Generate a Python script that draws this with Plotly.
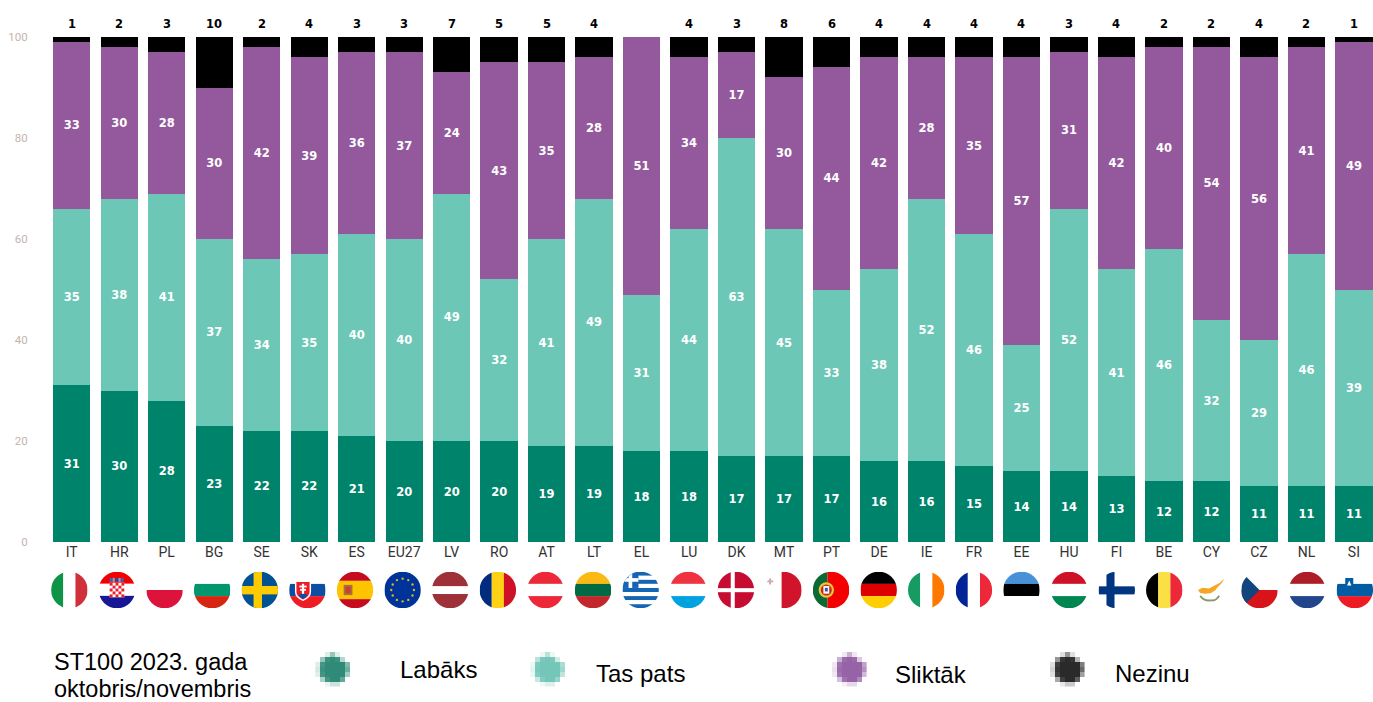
import base64
import plotly.graph_objects as go

categories = ["IT","HR","PL","BG","SE","SK","ES","EU27","LV","RO","AT","LT","EL","LU","DK","MT","PT","DE","IE","FR","EE","HU","FI","BE","CY","CZ","NL","SI"]
labaks  = [31,30,28,23,22,22,21,20,20,20,19,19,18,18,17,17,17,16,16,15,14,14,13,12,12,11,11,11]
tas_pats= [35,38,41,37,34,35,40,40,49,32,41,49,31,44,63,45,33,38,52,46,25,52,41,46,32,29,46,39]
sliktak = [33,30,28,30,42,39,36,37,24,43,35,28,51,34,17,30,44,42,28,35,57,31,42,40,54,56,41,49]
nezinu  = [1,2,3,10,2,4,3,3,7,5,5,4,0,4,3,8,6,4,4,4,4,3,4,2,2,4,2,1]

C_BETTER, C_SAME, C_WORSE, C_DK = "#00836B", "#6CC7B6", "#93599C", "#000000"
LEG_COLORS = ["#2F8B78", "#74C6B8", "#9663A6", "#2A2A2A"]
LEG_NAMES = ["Labāks", "Tas pats", "Sliktāk", "Nezinu"]
TITLE_LINES = ["ST100 2023. gada", "oktobris/novembris"]

W, H = 1373, 702
L, T, B = 47.65, 37, 160
PW, PH = W - L, H - T - B

def px(x): return (x - L) / PW
def py(y): return (H - B - y) / PH

def h(*s, stops=None):
    stops = stops or [i / len(s) * 100 for i in range(len(s) + 1)]
    return "".join(f'<rect x="0" y="{stops[i]}" width="100" height="{stops[i+1]-stops[i]}" fill="{c}"/>' for i, c in enumerate(s))

def v(*s):
    n = len(s)
    return "".join(f'<rect y="0" x="{i*100/n}" height="100" width="{100/n+.2}" fill="{c}"/>' for i, c in enumerate(s))

def rect(x, y, w, hh, c): return f'<rect x="{x}" y="{y}" width="{w}" height="{hh}" fill="{c}"/>'

checker = rect(30, 30, 40, 40, "#fff") + "".join(
    rect(30 + i * 8, 30 + j * 8, 8, 8, "#E8202A") for i in range(5) for j in range(5) if (i + j) % 2 == 0)
hr_crest = "".join(rect(x, 17, 6, 11, c) for x, c in [(30, "#2E6FB5"), (38, "#7AA6D8"), (46, "#1F4E9A"), (54, "#7AA6D8"), (62, "#2E6FB5")])
eu_stars = "".join(f'<circle cx="{cx}" cy="{cy}" r="3.2" fill="#D8B820"/>' for cx, cy in
                   [(50,19),(65.5,23),(77,35),(81,50),(77,65),(65.5,77),(50,81),(34.5,77),(23,65),(19,50),(23,35),(34.5,23)])
greek = h(*["#1565B5", "#fff"] * 4 + ["#1565B5"]) + rect(0, 0, 44, 44.4, "#1565B5") + rect(17, 0, 10, 44.4, "#fff") + rect(0, 17.5, 44, 10, "#fff")
portugal = (rect(0, 0, 40, 100, "#0A6A35") + rect(40, 0, 60, 100, "#F40000") +
            '<circle cx="37" cy="50" r="21" fill="#E8C93A"/><circle cx="37" cy="50" r="15" fill="#C22"/>' +
            rect(29, 39, 16, 21, "#fff") + rect(33, 44, 8, 10, "#2A5AA8"))
cyprus = ('<path d="M12 50 L24 44 L42 46 L60 36 L72 30 L84 18 L76 32 L66 42 L60 50 L48 58 L32 60 L18 58 Z" fill="#F5A623"/>'
          '<path d="M18 66 Q30 82 47 78 M70 66 Q60 82 47 78" stroke="#8A9A6E" stroke-width="5" fill="none"/>')

FLAGS = {
    "IT": v("#0E9347", "#FFFFFF", "#CF3039"),
    "HR": h("#F00000", "#FFFFFF", "#171796", stops=[0, 33, 66, 100]) + hr_crest + checker,
    "PL": h("#FFFFFF", "#DC143C", stops=[0, 50, 100]),
    "BG": h("#FFFFFF", "#00966E", "#D62612"),
    "SE": h("#005293") + rect(33, 0, 23, 100, "#FECB00") + rect(0, 39, 100, 23, "#FECB00"),
    "SK": h("#FFFFFF", "#0B4EA2", "#EE1C25") + '<path d="M16 25 H60 V55 Q60 72 38 80 Q16 72 16 55 Z" fill="#fff"/><path d="M20 28 H56 V55 Q56 68 38 76 Q20 68 20 55 Z" fill="#EE1C25"/>' + rect(35, 33, 6, 30, "#fff") + rect(28, 38, 20, 5, "#fff") + rect(30, 47, 16, 5, "#fff") + '<path d="M25 64 Q38 56 51 64 Q46 71 38 75 Q30 71 25 64 Z" fill="#0B4EA2"/>',
    "ES": h("#C60B1E", "#FFC400", "#C60B1E", stops=[0, 25, 75, 100]) + rect(19, 36, 24, 28, "#A8703A") + rect(24, 41, 14, 18, "#C9403A"),
    "EU27": h("#003399") + eu_stars,
    "LV": h("#9E3039", "#FFFFFF", "#9E3039", stops=[0, 40, 61, 100]),
    "RO": v("#002B7F", "#FCD116", "#CE1126"),
    "AT": h("#ED2939", "#FFFFFF", "#ED2939"),
    "LT": h("#FDB913", "#006A44", "#C1272D"),
    "EL": greek,
    "LU": h("#EF3340", "#FFFFFF", "#00A3E0"),
    "DK": h("#C60C30") + rect(36, 0, 11, 100, "#fff") + rect(0, 45, 100, 11, "#fff"),
    "MT": rect(45, 0, 55, 100, "#CF142B") + rect(11, 18, 5, 17, "#C9A9AD") + rect(5, 24, 17, 5, "#C9A9AD"),
    "PT": portugal,
    "DE": h("#000000", "#DD0000", "#FFCE00"),
    "IE": v("#169B62", "#FFFFFF", "#FF7900"),
    "FR": v("#002395", "#FFFFFF", "#ED2939"),
    "EE": h("#4891D9", "#000000", "#FFFFFF"),
    "HU": h("#CE1126", "#FFFFFF", "#008751"),
    "FI": h("#FFFFFF") + rect(22, 0, 22, 100, "#003580") + rect(0, 40, 100, 22, "#003580"),
    "BE": v("#000000", "#FAE042", "#ED2939"),
    "CY": h("#FFFFFF") + cyprus,
    "CZ": h("#FFFFFF", "#D7141A", stops=[0, 50, 100]) + '<path d="M0 0 L50 50 L0 100 Z" fill="#11457E"/>',
    "NL": h("#AE1C28", "#FFFFFF", "#21468B"),
    "SI": h("#FFFFFF", "#005DA4", "#ED1C24") + '<path d="M24 17 H46 V36 Q46 42 35 46 Q24 42 24 36 Z" fill="#005DA4"/><path d="M35 24 L41 38 H29 Z" fill="#fff"/>',
}

def uri(svg):
    return "data:image/svg+xml;base64," + base64.b64encode(svg.encode()).decode()

def flag_uri(body):
    return uri('<svg xmlns="http://www.w3.org/2000/svg" width="200" height="200" viewBox="0 0 100 100">'
               '<defs><clipPath id="c"><circle cx="50" cy="50" r="50"/></clipPath></defs>'
               f'<g clip-path="url(#c)">{body}</g></svg>')

BLOB = [[0,0,.15,.5,.15,0,0],[0,.5,.95,1,.95,.35,0],[.15,.9,1,1,1,1,.6],[.2,.95,1,1,1,1,.7],
        [.15,.9,1,1,1,1,.45],[0,.4,.9,1,1,.75,0],[0,0,.1,.25,.25,0,0]]

def blob_uri(color):
    cells = "".join(f'<rect x="{x}" y="{y}" width="1" height="1" fill="{color}" fill-opacity="{a}"/>'
                    for y, row in enumerate(BLOB) for x, a in enumerate(row) if a)
    return uri(f'<svg xmlns="http://www.w3.org/2000/svg" width="350" height="350" viewBox="0 0 7 7" shape-rendering="crispEdges">{cells}</svg>')

fig = go.Figure()
x_idx = list(range(len(categories)))
for vals, col, name in [(labaks, C_BETTER, LEG_NAMES[0]), (tas_pats, C_SAME, LEG_NAMES[1]), (sliktak, C_WORSE, LEG_NAMES[2])]:
    fig.add_bar(x=x_idx, y=vals, name=name, marker=dict(color=col, line=dict(width=0)), text=vals,
                textposition="inside", insidetextanchor="middle", textangle=0, constraintext="none",
                textfont=dict(family="DejaVu Sans", size=11.5, color="#FFFFFF", weight=700))
fig.add_bar(x=x_idx, y=nezinu, name=LEG_NAMES[3], marker=dict(color=C_DK, line=dict(width=0)), textposition="none")

images = [dict(source=flag_uri(FLAGS[c]), xref="x", yref="paper", x=i * 1.0025 - 0.05, y=py(590), sizex=36.6 / 47.5, sizey=36.6 / PH,
               xanchor="center", yanchor="middle", sizing="stretch", layer="above") for i, c in enumerate(categories)]
for cx, col in zip([332.5, 547.5, 849, 1067], LEG_COLORS):
    images.append(dict(source=blob_uri(col), xref="paper", yref="paper", x=px(cx), y=py(669), sizex=35 / PW, sizey=35 / PH,
                       xanchor="center", yanchor="middle", sizing="stretch", layer="above"))

def note(text, x, y, size=24):
    return dict(text=text, xref="paper", yref="paper", x=px(x), y=py(y), xanchor="left", yanchor="middle", showarrow=False,
                align="left", borderpad=0, font=dict(family="Liberation Sans", size=size, color="#000000"))

ann = [note(TITLE_LINES[0], 53, 662, size=23.5), note(TITLE_LINES[1], 53, 688.5, size=23.5)]
for name, x, y in zip(LEG_NAMES, [399, 595, 894, 1114], [669, 673, 674, 673]):
    ann.append(note(name, x, y))
for i, n in enumerate(nezinu):
    if n:
        ann.append(dict(text=str(n), x=i, y=100, xref="x", yref="y", xanchor="center", yanchor="bottom", yshift=4,
                        showarrow=False, font=dict(family="DejaVu Sans", size=11.5, color="#000000", weight=700)))

fig.update_layout(
    width=W, height=H, barmode="stack", bargap=0.215, showlegend=False,
    paper_bgcolor="#FFFFFF", plot_bgcolor="#FFFFFF",
    margin=dict(l=L, r=0, t=T, b=B, pad=0),
    xaxis=dict(range=[-0.5, (W - 71.4) / 47.5], tickmode="array", tickvals=x_idx, ticktext=categories, showgrid=False,
               zeroline=False, showline=False, ticks="", ticklabelstandoff=0,
               tickfont=dict(family="Roboto", size=14, color="#333333")),
    yaxis=dict(range=[0, 100], tickmode="array", tickvals=[0, 20, 40, 60, 80, 100], showgrid=False, zeroline=False,
               showline=False, ticks="outside", ticklen=17, tickcolor="rgba(0,0,0,0)",
               tickfont=dict(family="Roboto", size=11.5, color="#C4B3AC")),
    images=images, annotations=ann,
)
fig.write_html("out.html", config=dict(displayModeBar=False),
               post_script="document.body.style.margin='0';document.documentElement.style.overflow='hidden';")
